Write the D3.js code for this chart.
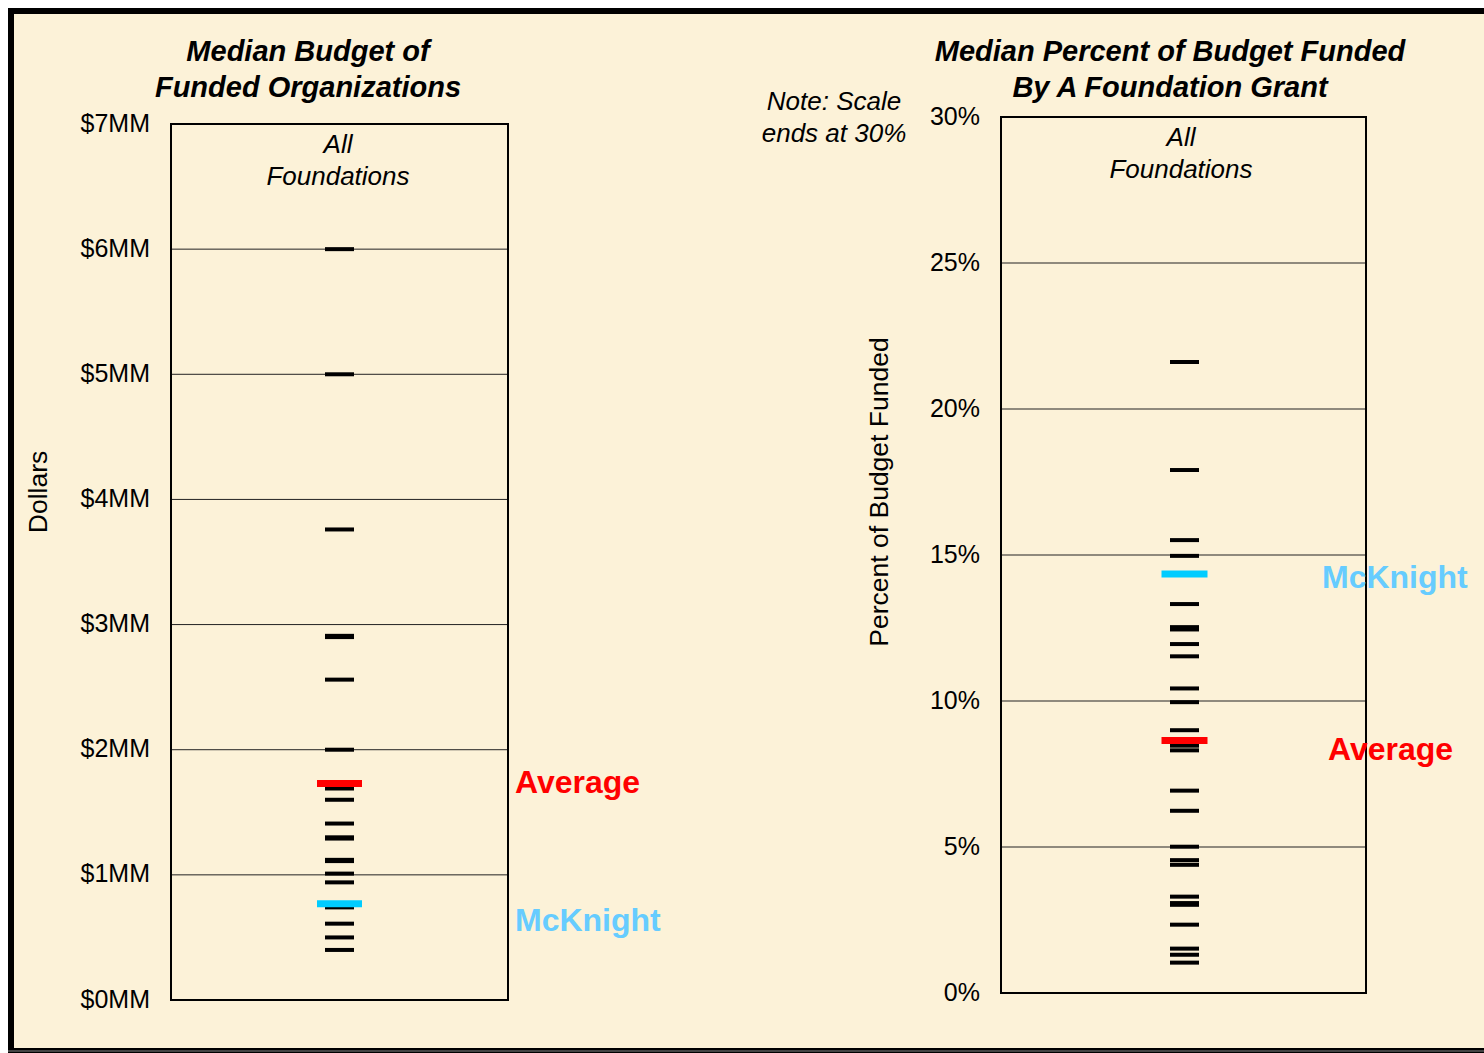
<!DOCTYPE html>
<html>
<head>
<meta charset="utf-8">
<script src="https://cdn.jsdelivr.net/npm/d3@7"></script>
<style>
  html, body { margin: 0; padding: 0; background: #fff; }
  svg { display: block; }
  text { font-family: "Liberation Sans", Arial, sans-serif; fill: #000; }
</style>
</head>
<body>
<svg id="chart" width="1484" height="1053"></svg>
<script>
/* ============================
   DATA
============================ */
// izquierda: presupuesto mediano (millones USD) por fundación
const budgetValues = [6.0, 5.0, 3.76, 2.90, 2.91, 2.56, 2.0, 1.69, 1.60, 1.41, 1.29, 1.30,
  1.11, 1.12, 1.01, 0.94, 0.74, 0.61, 0.50, 0.40];
const budgetAverage = 1.73;
const budgetMcKnight = 0.77;
const budgetTicks = [0, 1, 2, 3, 4, 5, 6, 7];
const budgetTickLabels = ["$0MM", "$1MM", "$2MM", "$3MM", "$4MM", "$5MM", "$6MM", "$7MM"];

// derecha: % del presupuesto financiado por la subvención
const pctValues = [21.61, 17.91, 15.51, 14.97, 13.32, 12.45, 12.53, 11.95, 11.53, 10.43, 9.96,
  9.0, 8.47, 8.31, 6.93, 6.24, 5.01, 4.55, 4.39, 3.30, 3.02, 3.08, 2.34, 1.52, 1.31, 1.04];
const pctAverage = 8.65;
const pctMcKnight = 14.35;
const pctTicks = [0, 5, 10, 15, 20, 25, 30];
const pctTickLabels = ["0%", "5%", "10%", "15%", "20%", "25%", "30%"];

/* ============================
   CONFIG
============================ */
const BG = "#FCF2D8";
const RED = "#FF0000";
const CYAN = "#00CCFF";
const LIGHTBLUE = "#66CCFF";

const svg = d3.select("#chart");

// fondo + marco exterior
svg.append("rect").attr("x", 0).attr("y", 0).attr("width", 1484).attr("height", 1053).attr("fill", "#fff");
svg.append("rect")
  .attr("x", 11).attr("y", 11).attr("width", 1500).attr("height", 1040)
  .attr("fill", BG).attr("stroke", "#000").attr("stroke-width", 6);
svg.append("line").attr("x1", 8).attr("x2", 1484).attr("y1", 1051).attr("y2", 1051)
  .attr("stroke", "#444").attr("stroke-width", 2);

/* ============================
   PANEL
============================ */
function drawPanel(p) {
  const y = d3.scaleLinear().domain(p.domain).range([p.bottom, p.top]);
  const g = svg.append("g");

  // grilla
  g.selectAll("line.grid")
    .data(p.ticks.filter(t => t !== p.domain[0] && t !== p.domain[1]))
    .enter().append("line")
    .attr("x1", p.left).attr("x2", p.right)
    .attr("y1", d => y(d)).attr("y2", d => y(d))
    .attr("stroke", "#222").attr("stroke-width", 1);

  // eje (solo etiquetas)
  const axis = d3.axisLeft(y)
    .tickValues(p.ticks)
    .tickFormat((d, i) => p.tickLabels[i])
    .tickSize(0)
    .tickPadding(p.tickPad);
  const ax = g.append("g").attr("transform", `translate(${p.left},0)`).call(axis);
  ax.select(".domain").remove();
  ax.selectAll("text")
    .attr("font-size", 25)
    .attr("font-family", "Liberation Sans, Arial, sans-serif")
    .attr("fill", "#000")
    .attr("dy", "0.28em");

  // caja
  g.append("rect")
    .attr("x", p.left).attr("y", p.top)
    .attr("width", p.right - p.left).attr("height", p.bottom - p.top)
    .attr("fill", "none").attr("stroke", "#000").attr("stroke-width", 2);

  const cx = (p.markX0 + p.markX1) / 2;

  // marcas de fundaciones
  g.selectAll("line.mark")
    .data(p.values)
    .enter().append("line")
    .attr("x1", p.markX0).attr("x2", p.markX1)
    .attr("y1", d => y(d)).attr("y2", d => y(d))
    .attr("stroke", "#000").attr("stroke-width", 4);

  // promedio y McKnight
  [[p.average, RED], [p.mcknight, CYAN]].forEach(([v, c]) => {
    g.append("line")
      .attr("x1", cx - p.hiHalf).attr("x2", cx + p.hiHalf)
      .attr("y1", y(v)).attr("y2", y(v))
      .attr("stroke", c).attr("stroke-width", 7);
  });

  // títulos
  p.title.forEach((t, i) => {
    g.append("text").attr("x", p.titleX).attr("y", 61 + i * 36)
      .attr("text-anchor", "middle")
      .attr("font-size", 29).attr("font-weight", "bold").attr("font-style", "italic")
      .text(t);
  });
  ["All", "Foundations"].forEach((t, i) => {
    g.append("text").attr("x", p.allX).attr("y", p.top + 29 + i * 32)
      .attr("text-anchor", "middle")
      .attr("font-size", 26).attr("font-style", "italic")
      .text(t);
  });

  // eje Y título
  g.append("text")
    .attr("transform", `translate(${p.yTitleX},${p.yTitleY}) rotate(-90)`)
    .attr("text-anchor", "middle")
    .attr("font-size", 26.5)
    .text(p.yTitle);

  // etiquetas Average / McKnight
  g.append("text").attr("x", p.avgLabel[0]).attr("y", p.avgLabel[1])
    .attr("font-size", 32).attr("font-weight", "bold")
    .style("fill", RED).text("Average");
  g.append("text").attr("x", p.mckLabel[0]).attr("y", p.mckLabel[1])
    .attr("font-size", 32).attr("font-weight", "bold")
    .style("fill", LIGHTBLUE).text("McKnight");
}

drawPanel({
  domain: [0, 7], ticks: budgetTicks, tickLabels: budgetTickLabels,
  left: 171, right: 508, top: 124, bottom: 1000, tickPad: 21,
  markX0: 325, markX1: 354, hiHalf: 22.5, allX: 338,
  values: budgetValues, average: budgetAverage, mcknight: budgetMcKnight,
  title: ["Median Budget of", "Funded Organizations"], titleX: 308,
  yTitleX: 47, yTitleY: 492, yTitle: "Dollars",
  avgLabel: [515, 793], mckLabel: [515, 931]
});

drawPanel({
  domain: [0, 30], ticks: pctTicks, tickLabels: pctTickLabels,
  left: 1001, right: 1366, top: 117, bottom: 993, tickPad: 21,
  markX0: 1170, markX1: 1199, hiHalf: 23, allX: 1181,
  values: pctValues, average: pctAverage, mcknight: pctMcKnight,
  title: ["Median Percent of Budget Funded", "By A Foundation Grant"], titleX: 1170,
  yTitleX: 888, yTitleY: 492, yTitle: "Percent of Budget Funded",
  avgLabel: [1328, 760], mckLabel: [1322, 588]
});

// nota
["Note: Scale", "ends at 30%"].forEach((t, i) => {
  svg.append("text").attr("x", 834).attr("y", 110 + i * 32)
    .attr("text-anchor", "middle")
    .attr("font-size", 26).attr("font-style", "italic")
    .text(t);
});
</script>
</body>
</html>
